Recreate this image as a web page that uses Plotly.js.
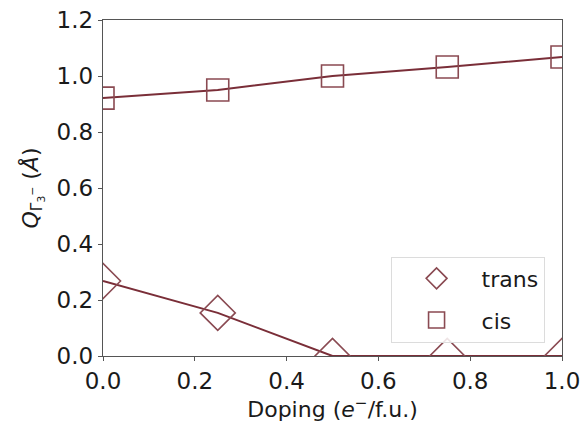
<!DOCTYPE html>
<html>
<head>
<meta charset="utf-8">
<script src="https://cdn.plot.ly/plotly-3.0.1.min.js"></script>
<style>html,body{margin:0;padding:0;background:#fff;}#chart{width:586px;height:425px;}</style>
</head>
<body>
<div id="chart"></div>
<script>
const doping = [0.0, 0.25, 0.5, 0.75, 1.0];
const transValues = [0.268, 0.154, 0.0, 0.0, 0.0];
const cisValues = [0.921, 0.950, 1.000, 1.032, 1.068];
const seriesNames = ["trans", "cis"];
const xTicks = [0.0, 0.2, 0.4, 0.6, 0.8, 1.0];
const yTicks = [0.0, 0.2, 0.4, 0.6, 0.8, 1.0, 1.2];

const lineCol = "#7a2e38";
const markCol = "#8a4a52";
const symbols = ["diamond-open", "square-open"];
const sizes = [27, 22];
const series = [transValues, cisValues];

const traces = [];
series.forEach((vals, i) => {
  traces.push({x: doping, y: vals, name: seriesNames[i], mode: "lines+markers",
    showlegend: false,
    line: {color: lineCol, width: 2},
    marker: {symbol: symbols[i], size: sizes[i], color: markCol, line: {width: 1.6, color: markCol}},
    cliponaxis: true});
});
// legend-only entries (markers only, as in the reference legend)
series.forEach((vals, i) => {
  traces.push({x: [null], y: [null], name: seriesNames[i], mode: "markers",
    legendgroup: "g" + i, showlegend: true,
    marker: {symbol: symbols[i], size: sizes[i], color: markCol, line: {width: 1.6, color: markCol}}});
});

const layout = {
  width: 586, height: 425,
  margin: {l: 103, r: 24, t: 20, b: 69},
  paper_bgcolor: "#fff", plot_bgcolor: "#fff",
  font: {family: "DejaVu Sans", size: 22, color: "#1a1a1a"},
  showlegend: true,
  legend: {x: 0.962, y: 0.04, xanchor: "right", yanchor: "bottom",
    bordercolor: "#dcdcdc", borderwidth: 1, bgcolor: "rgba(255,255,255,0.85)",
    font: {size: 22}, itemsizing: "trace", itemwidth: 80, tracegroupgap: 10},
  xaxis: {range: [0, 1], tickvals: xTicks, ticktext: xTicks.map(v => v.toFixed(1)),
    tickfont: {size: 23},
    showgrid: false, zeroline: false, showline: true, mirror: true, linecolor: "#555", linewidth: 1.2,
    ticks: "outside", ticklen: 4, tickcolor: "#555",
    title: {text: "Doping (<i>e</i><sup>−</sup>/f.u.)", font: {size: 22}, standoff: 2}},
  yaxis: {range: [0, 1.2], tickvals: yTicks, ticktext: yTicks.map(v => v.toFixed(1)),
    tickfont: {size: 23},
    showgrid: false, zeroline: false, showline: true, mirror: true, linecolor: "#555", linewidth: 1.2,
    ticks: "outside", ticklen: 4, tickcolor: "#555",
    title: {text: "<i>Q</i><sub>Γ<sub>3</sub><sup>−</sup></sub> (<i>Å</i>)", font: {size: 22}, standoff: 12}}
};
Plotly.newPlot("chart", traces, layout, {displayModeBar: false, staticPlot: true});
</script>
</body>
</html>
